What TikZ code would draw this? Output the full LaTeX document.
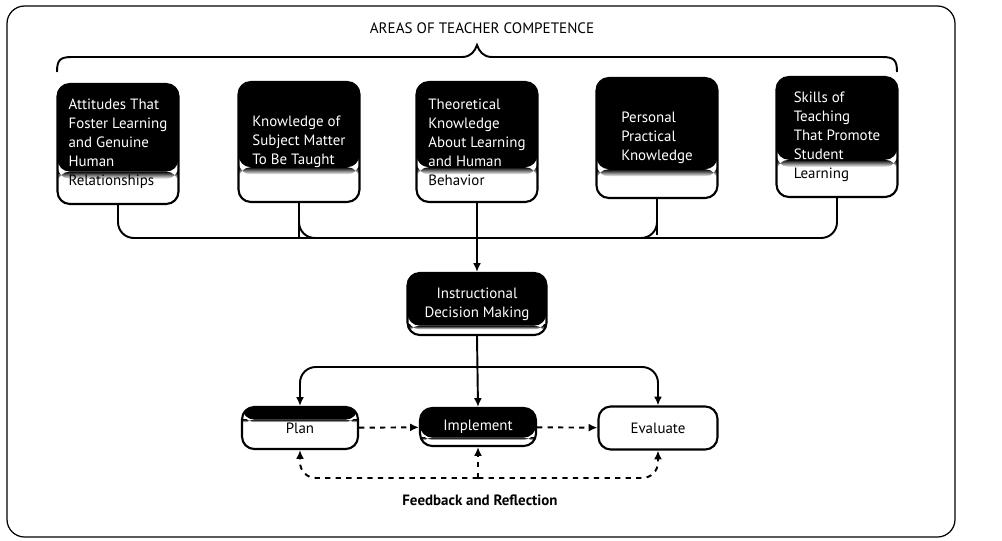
\documentclass[tikz,border=0pt]{standalone}
\usepackage{fontspec}
\setmainfont{PT Sans}
\usetikzlibrary{arrows.meta,calc}
\begin{document}
\begin{tikzpicture}[x=0.02cm,y=-0.02cm,
  line/.style={line width=1.1pt},
  tip/.style={-{Latex[length=5pt,width=4.5pt]}},
  darken/.style={path picture={
    \fill[black] (path picture bounding box.north west) rectangle ($(path picture bounding box.north east)!#1!(path picture bounding box.south east)$);
    \shade[top color=black,bottom color=white] ($(path picture bounding box.north west)!#1!(path picture bounding box.south west)$) rectangle ($(path picture bounding box.north east)!#1+0.06!(path picture bounding box.south east)$);
  }},
  areabox/.style={draw=black,line width=1.2pt,rounded corners=7pt,fill=white,
    minimum width=2.42cm,minimum height=2.4cm,align=left,text=white,
    font=\fontsize{8.5}{10.8}\selectfont,inner sep=2pt},
  stepbox/.style={draw=black,line width=1.2pt,rounded corners=7pt,fill=white,
    minimum width=2.32cm,minimum height=0.82cm,align=center,
    font=\fontsize{8.5}{10.8}\selectfont,inner sep=2pt},
]
\useasboundingbox (0,0) rectangle (1002,541);
% outer frame
\draw[line width=0.7pt,rounded corners=10pt] (7,6) rectangle (955,537);
\node[font=\fontsize{8.6}{10}\selectfont] (title) at (482,28) {AREAS OF TEACHER COMPETENCE};
% brace
\draw[line] (57,72) .. controls (57,60) and (60,57) .. (72,57) -- (462,57)
  .. controls (471,57) and (475,51) .. (477,45) .. controls (479,51) and (483,57) .. (492,57)
  -- (882,57) .. controls (894,57) and (897,60) .. (897,72);
% area boxes
\node[areabox,darken=0.73] (b1) at (118,144) {Attitudes That\\Foster Learning\\and Genuine\\Human\\\textcolor{black}{Relationships}};
\node[areabox,darken=0.71] (b2) at (299,142) {Knowledge of\\Subject Matter\\To Be Taught};
\node[areabox,darken=0.71] (b3) at (477,142) {Theoretical\\Knowledge\\About Learning\\and Human\\\textcolor{black}{Behavior}};
\node[areabox,darken=0.76] (b4) at (657,138) {Personal\\Practical\\Knowledge};
\node[areabox,darken=0.69] (b5) at (837,137) {Skills of\\Teaching\\That Promote\\Student\\\textcolor{black}{Learning}};
% bus
\coordinate (bus) at (477,238);
\draw[line,rounded corners=9pt] (b1.south) |- (bus) -| (b5.south);
\draw[line,rounded corners=9pt] (b2.south) -- ++(0,20) |- ($(b2.south|-bus)+(20,0)$);
\draw[line,rounded corners=9pt] (b4.south) -- ++(0,20) |- ($(b4.south|-bus)+(-20,0)$);
% decision
\node[stepbox,darken=0.85,text=white,minimum width=2.78cm,minimum height=1.24cm] (dec) at (477,304) {Instructional\\Decision Making};
\draw[line,tip] (b3.south) -- (dec.north);
% steps
\node[stepbox,darken=0.3,minimum height=0.84cm] (plan) at (300,428) {Plan};
\node[stepbox,darken=0.78,text=white,minimum height=0.76cm] (imp) at (478,427) {Implement};
\node[stepbox,minimum width=2.38cm,minimum height=0.86cm] (eval) at (658,428) {Evaluate};
\coordinate (split) at (dec.south |- 0,367);
\draw[line,tip] (dec.south) -- (imp.north);
\draw[line,tip,rounded corners=9pt] (split) -| (plan.north);
\draw[line,tip,rounded corners=9pt] (split) -| (eval.north);
\draw[line,tip,dashed] (plan) -- (imp);
\draw[line,tip,dashed] (imp) -- (eval);
% feedback
\coordinate (fb) at (imp.south |- 0,478);
\draw[line,tip,dashed,rounded corners=9pt] (fb) -| (plan.south);
\draw[line,tip,dashed,rounded corners=9pt] (fb) -| (eval.south);
\draw[line,tip,dashed] (fb) -- (imp.south);
\node[font=\fontsize{8.5}{10}\selectfont\bfseries] (fbl) at (480,500) {Feedback and Reflection};
\end{tikzpicture}
\end{document}
